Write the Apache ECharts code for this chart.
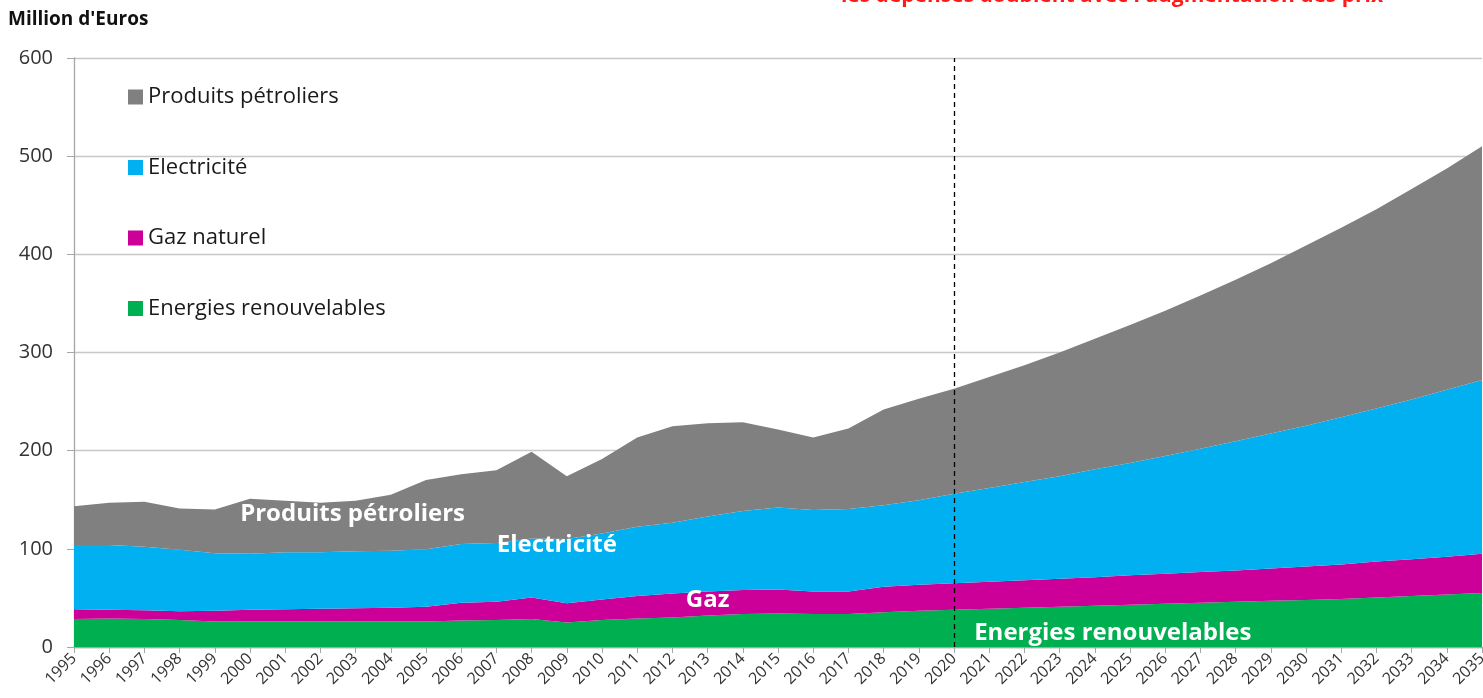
<!DOCTYPE html>
<html>
<head>
<meta charset="utf-8">
<script src="https://cdn.jsdelivr.net/npm/echarts@6/dist/echarts.min.js"></script>
<style>
  html, body { margin: 0; padding: 0; background: #fff; }
  #chart { width: 1483px; height: 698px; }
</style>
</head>
<body>
<div id="chart"></div>
<script>
// years 1995 - 2035 (projection after 2020)
var years = [];
for (var y = 1995; y <= 2035; y++) { years.push(String(y)); }

var yTicks = [0, 100, 200, 300, 400, 500, 600];

// Million d'Euros (stacked: renouvelables at the bottom)
var renouvelables = [28.5, 29, 28.5, 27.5, 26, 26, 26, 26, 26, 26,
  26, 27, 27.5, 28.5, 25, 27.5, 29, 30, 32, 33.5,
  34, 33.5, 33.5, 35.5, 37, 38, 39, 40, 41, 42,
  43, 44, 45, 46, 47, 48, 49, 50.5, 52, 53.5, 55];
var gaz = [10, 9, 9, 9, 11, 12, 12.5, 13, 13.5, 14,
  15, 18, 18.5, 22, 19.5, 21, 23, 24.5, 24.5, 24.5,
  24.5, 23, 23, 26, 26.5, 27, 27.5, 28, 28.5, 29,
  30, 30.5, 31.5, 32, 33, 34, 35, 36.5, 37.5, 38.5, 40];
var electricite = [65.5, 66, 64.5, 62.5, 58.5, 57, 58, 57.5, 58, 58,
  58.5, 60, 60, 60, 65.5, 67, 70.5, 72, 76.5, 80.5,
  83.5, 83, 84, 83, 86, 91, 95.5, 100, 104.5, 110,
  114.5, 120, 125.5, 131.5, 137.5, 143.5, 150, 156, 162.5, 170, 177];
var petroliers = [39.5, 43, 46, 42, 44.5, 56, 52.5, 50.5, 51.5, 57,
  70.5, 71, 74, 88.5, 64, 76, 91, 98.5, 95, 90.5,
  79.5, 74, 82, 97.5, 103.5, 107, 113, 119, 126, 133,
  140.5, 148, 156, 164.5, 173.5, 183.5, 193, 203, 214.5, 225.5, 238];

var names = ["Energies renouvelables", "Gaz naturel", "Electricité", "Produits pétroliers"];
var colors = ["#00b050", "#cc0099", "#00b0f0", "#808080"];
var values = [renouvelables, gaz, electricite, petroliers];

// inline labels: [text, year, value, pixel nudge in x]
var areaLabels = [
  ["Produits pétroliers", "2003", 135, -3],
  ["Electricité", "2009", 104, -10],
  ["Gaz", "2013", 48, 0],
  ["Energies renouvelables", "2024", 14, 18]
];

var FONT = "Open Sans";

var chart = echarts.init(document.getElementById("chart"));

var series = [];
for (var i = 0; i < names.length; i++) {
  var s = {
    name: names[i],
    type: "line",
    stack: "total",
    data: values[i],
    showSymbol: false,
    symbol: "none",
    lineStyle: { width: 0 },
    itemStyle: { color: colors[i] },
    areaStyle: { color: colors[i], opacity: 1 },
    emphasis: { disabled: true },
    z: 2
  };
  series.push(s);
}
// dashed line at 2020
series[3].markLine = {
  silent: true,
  symbol: "none",
  label: { show: false },
  lineStyle: { color: "#000", type: [5, 4], width: 1.3 },
  data: [{ xAxis: "2020" }]
};

var option = {
  animation: false,
  textStyle: { fontFamily: FONT },
  grid: { left: 74, right: 1, top: 58, bottom: 51, containLabel: false, outerBoundsMode: "none" },
  legend: {
    orient: "vertical",
    left: 123,
    top: 79,
    itemWidth: 15,
    itemHeight: 15,
    itemGap: 44.5,
    icon: "rect",
    selectedMode: false,
    data: ["Produits pétroliers", "Electricité", "Gaz naturel", "Energies renouvelables"],
    textStyle: { fontSize: 22, lineHeight: 26, color: "#1a1a1a", fontFamily: FONT }
  },
  xAxis: {
    type: "category",
    data: years,
    boundaryGap: false,
    axisLine: { lineStyle: { color: "#a6a6a6", width: 1.3 } },
    axisTick: { show: true, length: 6, alignWithLabel: true, lineStyle: { color: "#a6a6a6" } },
    axisLabel: { interval: 0, rotate: 45, fontSize: 16, color: "#333", margin: 9, fontFamily: FONT },
    splitLine: { show: false }
  },
  yAxis: {
    type: "value",
    min: yTicks[0],
    max: yTicks[yTicks.length - 1],
    interval: 100,
    axisLine: { show: true, lineStyle: { color: "#a6a6a6", width: 1.3 } },
    axisTick: { show: true, length: 7, lineStyle: { color: "#a6a6a6" } },
    axisLabel: { fontSize: 20, color: "#333", margin: 21, fontFamily: FONT },
    splitLine: { lineStyle: { color: "#c8c8c8", width: 1.3 } }
  },
  series: series
};
chart.setOption(option);

// texts placed after layout so the inline labels follow the axes
var graphics = [
  {
    type: "text",
    left: 8,
    top: 10,
    style: { text: "Million d'Euros", fontSize: 19, fontWeight: "bold", fill: "#111", fontFamily: FONT }
  },
  {
    type: "text",
    x: 1112,
    y: -4,
    style: {
      text: "les dépenses doublent avec l'augmentation des prix",
      fontSize: 21, fontWeight: "bold", fill: "#ff1a1a", fontFamily: FONT,
      textAlign: "center", textVerticalAlign: "middle"
    }
  }
];
for (var k = 0; k < areaLabels.length; k++) {
  var p = chart.convertToPixel({ gridIndex: 0 }, [areaLabels[k][1], areaLabels[k][2]]);
  graphics.push({
    type: "text",
    x: p[0] + areaLabels[k][3],
    y: p[1],
    z: 10,
    style: {
      text: areaLabels[k][0],
      fontSize: 24, fontWeight: "bold", fill: "#fff", fontFamily: FONT,
      textAlign: "center", textVerticalAlign: "middle"
    }
  });
}
chart.setOption({ graphic: graphics });
</script>
</body>
</html>
